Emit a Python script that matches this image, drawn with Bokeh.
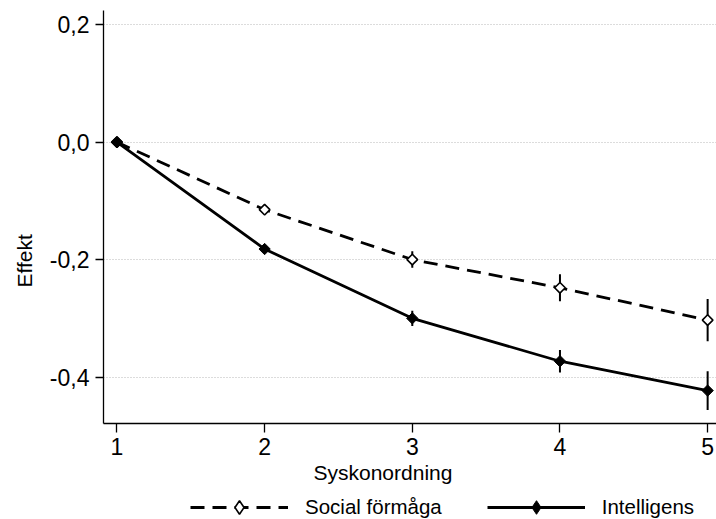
import math
from bokeh.plotting import figure
from bokeh.layouts import column
from bokeh.models import (ColumnDataSource, FixedTicker, Range1d, Legend, LegendItem, Title)
from bokeh.embed import file_html
from bokeh.resources import INLINE

# ---- data ----
order = [1, 2, 3, 4, 5]
social = [0.0, -0.115, -0.200, -0.248, -0.303]
social_err = [0.0, 0.005, 0.014, 0.023, 0.036]
intel = [0.0, -0.182, -0.300, -0.373, -0.423]
intel_err = [0.0, 0.006, 0.013, 0.019, 0.033]
y_ticks = [-0.4, -0.2, 0.0, 0.2]
y_tick_labels = ["-0,4", "-0,2", "0,0", "0,2"]
x_ticks = [1, 2, 3, 4, 5]
series_names = ["Social förmåga", "Intelligens"]
x_title = "Syskonordning"
y_title = "Effekt"

FONT = "Liberation Sans"

src_s = ColumnDataSource(dict(x=order, y=social,
                              lo=[v - e for v, e in zip(social, social_err)],
                              hi=[v + e for v, e in zip(social, social_err)]))
src_i = ColumnDataSource(dict(x=order, y=intel,
                              lo=[v - e for v, e in zip(intel, intel_err)],
                              hi=[v + e for v, e in zip(intel, intel_err)]))

P_H = 490
p = figure(width=716, height=P_H, output_backend="svg", toolbar_location=None,
           x_range=Range1d(0.909, 5.06), y_range=Range1d(-0.479, 0.224),
           min_border_left=102, min_border_right=0, min_border_top=10,
           min_border_bottom=P_H - 423)
p.outline_line_color = None
p.background_fill_color = "white"
p.border_fill_color = "white"

# grid
p.xgrid.visible = False
p.ygrid.ticker = FixedTicker(ticks=y_ticks)
p.ygrid.grid_line_color = "#b8b8b8"
p.ygrid.grid_line_dash = "1 2"
p.ygrid.grid_line_width = 1

# axes
for ax in (p.xaxis[0], p.yaxis[0]):
    ax.axis_line_color = "black"
    ax.axis_line_width = 1.3
    ax.major_tick_line_color = "black"
    ax.major_tick_line_width = 1.3
    ax.major_tick_in = 0
    ax.minor_tick_line_color = None
    ax.major_label_text_font = FONT
    ax.major_label_text_font_size = "23px"
    ax.major_label_text_color = "black"
p.xaxis.ticker = FixedTicker(ticks=x_ticks)
p.xaxis.major_tick_out = 9
p.xaxis.major_label_standoff = 5
p.yaxis.ticker = FixedTicker(ticks=y_ticks)
p.yaxis.major_label_overrides = {t: l for t, l in zip(y_ticks, y_tick_labels)}
p.yaxis.major_tick_out = 8
p.yaxis.major_label_standoff = 6

# error bars
p.segment(x0="x", y0="lo", x1="x", y1="hi", source=src_s, line_color="black", line_width=2)
p.segment(x0="x", y0="lo", x1="x", y1="hi", source=src_i, line_color="black", line_width=2)

line_s = dict(line_color="black", line_width=2.8, line_dash="14 8")
mark_s = dict(fill_color="white", line_color="black", line_width=1.6)
line_i = dict(line_color="black", line_width=2.8)
mark_i = dict(fill_color="black", line_color="black", line_width=1)

p.line("x", "y", source=src_s, **line_s)
p.scatter("x", "y", source=src_s, marker="square", angle=math.pi / 4, size=7.5, **mark_s)
p.line("x", "y", source=src_i, **line_i)
p.scatter("x", "y", source=src_i, marker="square", angle=math.pi / 4, size=8, **mark_i)

# axis titles as side-panel titles
xt = Title(text=x_title, align="left", offset=210, standoff=3,
           text_font=FONT, text_font_size="21px", text_font_style="normal",
           text_color="black")
p.add_layout(xt, "below")
yt = Title(text=y_title, align="left", offset=136, standoff=21,
           text_font=FONT, text_font_size="21px", text_font_style="normal",
           text_color="black")
p.add_layout(yt, "left")

# legend strip below the chart (same series, drawn outside its visible range)
L_H = 519 - P_H
pl = figure(width=716, height=L_H, output_backend="svg", toolbar_location=None,
            x_range=Range1d(100, 101), y_range=Range1d(100, 101),
            min_border=0, x_axis_location=None, y_axis_location=None)
pl.outline_line_color = None
pl.grid.visible = False
ls = pl.line("x", "y", source=src_s, **line_s)
ms = pl.scatter("x", "y", source=src_s, marker="diamond", **mark_s)
li = pl.line("x", "y", source=src_i, **line_i)
mi = pl.scatter("x", "y", source=src_i, marker="diamond", **mark_i)

legend = Legend(items=[LegendItem(label=series_names[0], renderers=[ls, ms]),
                       LegendItem(label=series_names[1], renderers=[li, mi])],
                orientation="horizontal", location=(87, -5),
                padding=0, margin=0, spacing=45,
                glyph_width=98, glyph_height=34, label_standoff=17,
                label_text_font=FONT, label_text_font_size="20.5px",
                label_text_color="black",
                border_line_color=None, background_fill_alpha=0)
pl.add_layout(legend, "center")

layout = column(p, pl, spacing=0)
open("out.html", "w").write(file_html(layout, INLINE))
